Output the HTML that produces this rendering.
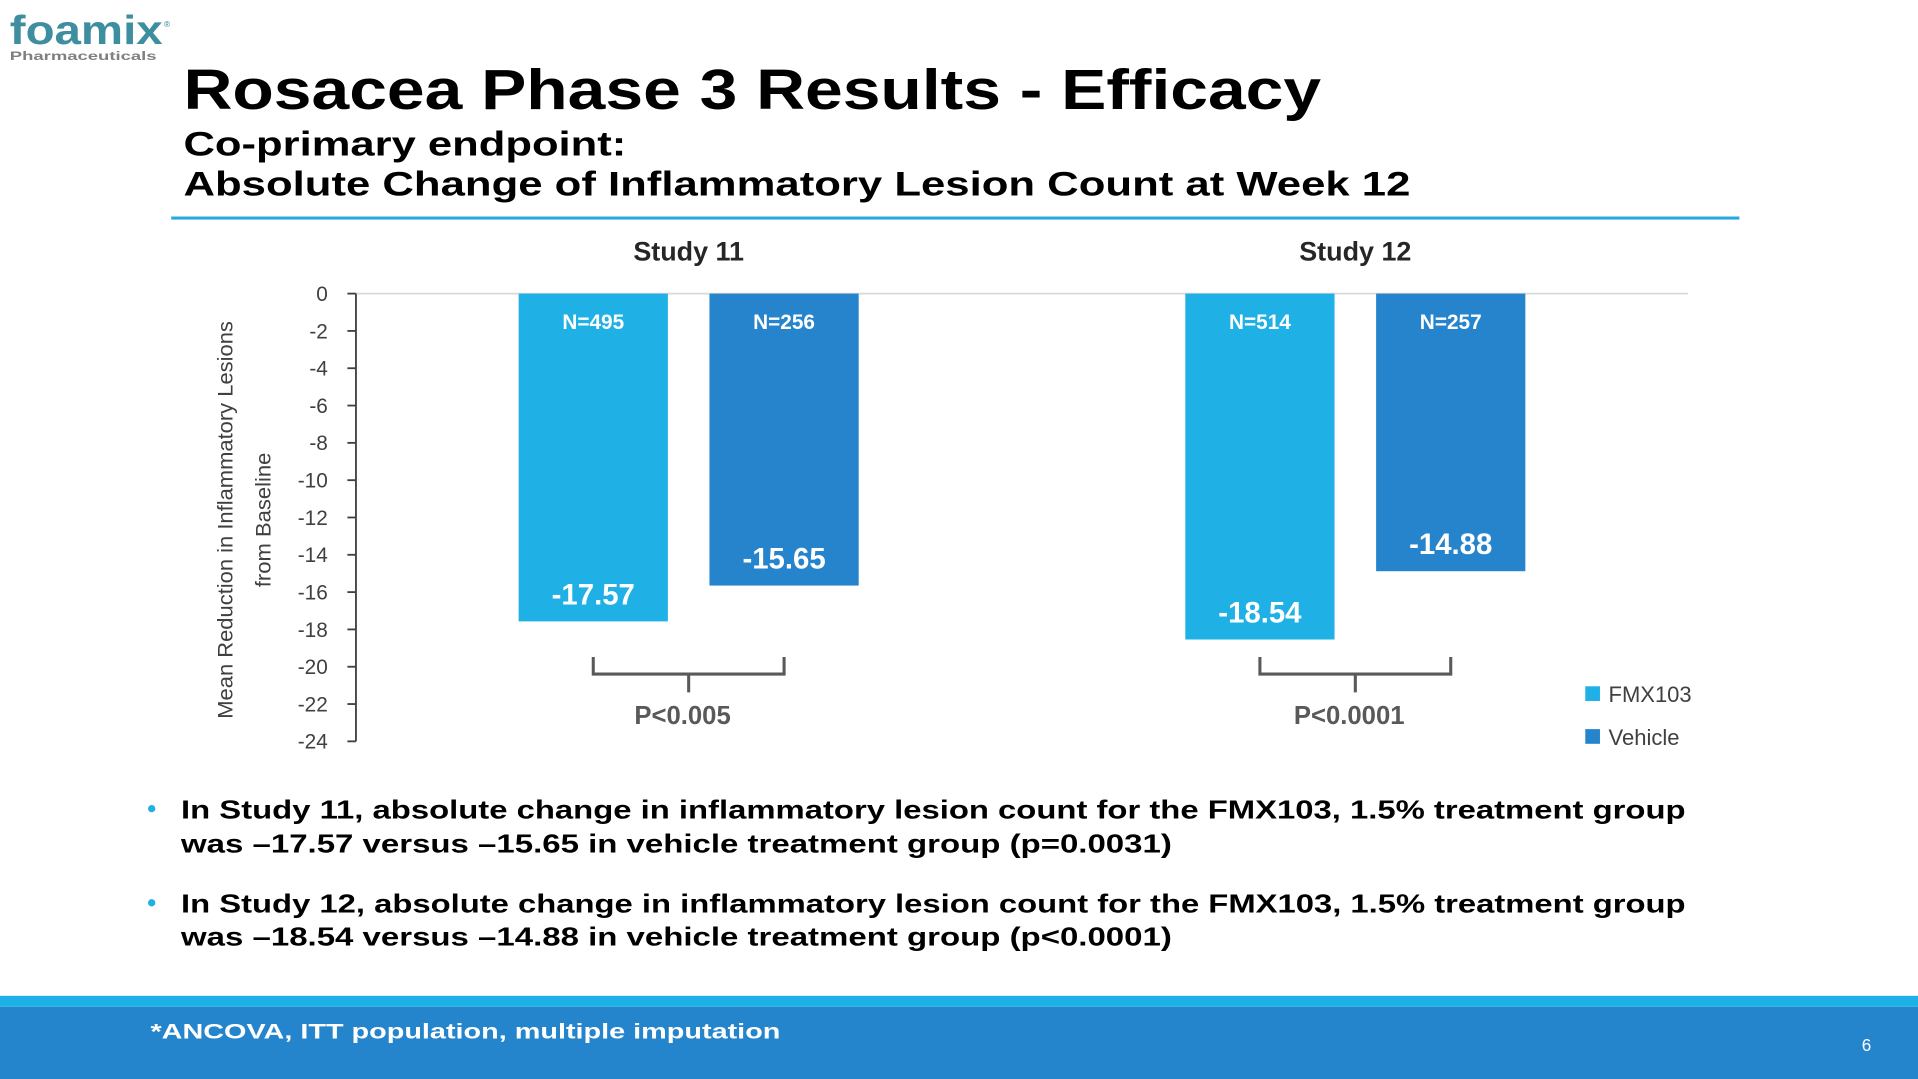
<!DOCTYPE html>
<html><head><meta charset="utf-8"><style>
html,body{margin:0;padding:0;background:#fff;}
svg{display:block;font-family:"Liberation Sans",sans-serif;}
</style></head><body>
<svg id="slide" width="1918" height="1079" viewBox="0 0 1568 882" preserveAspectRatio="none">
<text x="8" y="36" font-size="33" font-weight="bold" fill="#3d8e9f" textLength="125" lengthAdjust="spacingAndGlyphs">foamix</text>
<text x="134" y="22" font-size="7" fill="#3d8e9f">®</text>
<text x="8" y="49" font-size="10" font-weight="bold" fill="#808080" textLength="120" lengthAdjust="spacingAndGlyphs">Pharmaceuticals</text>
<text x="150" y="89" font-size="46" font-weight="bold" fill="#000" textLength="930" lengthAdjust="spacingAndGlyphs">Rosacea Phase 3 Results - Efficacy</text>
<text x="150" y="127" font-size="28" font-weight="bold" fill="#000" textLength="362" lengthAdjust="spacingAndGlyphs">Co-primary endpoint:</text>
<text x="150" y="160" font-size="28" font-weight="bold" fill="#000" textLength="1003" lengthAdjust="spacingAndGlyphs">Absolute Change of Inflammatory Lesion Count at Week 12</text>
<rect x="140" y="177" width="1282" height="2.5" fill="#29a8e0"/>
<g id="chart"></g>
<circle cx="124" cy="661" r="3" fill="#1fb1e6"/>
<text x="148" y="669" font-size="21" font-weight="bold" fill="#000" textLength="1230" lengthAdjust="spacingAndGlyphs">In Study 11, absolute change in inflammatory lesion count for the FMX103, 1.5% treatment group</text>
<text x="148" y="697" font-size="21" font-weight="bold" fill="#000" textLength="810" lengthAdjust="spacingAndGlyphs">was –17.57 versus –15.65 in vehicle treatment group (p=0.0031)</text>
<circle cx="124" cy="738" r="3" fill="#1fb1e6"/>
<text x="148" y="746" font-size="21" font-weight="bold" fill="#000" textLength="1230" lengthAdjust="spacingAndGlyphs">In Study 12, absolute change in inflammatory lesion count for the FMX103, 1.5% treatment group</text>
<text x="148" y="773" font-size="21" font-weight="bold" fill="#000" textLength="810" lengthAdjust="spacingAndGlyphs">was –18.54 versus –14.88 in vehicle treatment group (p&lt;0.0001)</text>
<rect x="0" y="814" width="1568" height="9" fill="#1fb1e6"/>
<rect x="0" y="823" width="1568" height="59" fill="#2585cc"/>
<text x="123" y="849" font-size="17" font-weight="bold" fill="#fff" textLength="515" lengthAdjust="spacingAndGlyphs">*ANCOVA, ITT population, multiple imputation</text>
<text x="1522" y="859" font-size="14" fill="#fff">6</text>
</svg>
<script>
const studies = ["Study 11", "Study 12"];
const seriesNames = ["FMX103", "Vehicle"];
const fmxValues = [-17.57, -18.54];
const vehicleValues = [-15.65, -14.88];
const fmxN = ["N=495", "N=514"];
const vehicleN = ["N=256", "N=257"];
const pLabels = ["P<0.005", "P<0.0001"];
const yTicks = [0, -2, -4, -6, -8, -10, -12, -14, -16, -18, -20, -22, -24];

const NS = "http://www.w3.org/2000/svg";
const g = document.getElementById("chart");
const y0 = 240, yBottom = 606, axisX = 291, plotRight = 1380;
function yScale(v){ return y0 + (v - 0) / (-24) * (yBottom - y0); }
const groupCenters = [563, 1108];
const barW = 122, barGap = 34;
function mk(tag, attrs, text){
  const e = document.createElementNS(NS, tag);
  for (const k in attrs) e.setAttribute(k, attrs[k]);
  if (text !== undefined) e.textContent = text;
  g.appendChild(e);
  return e;
}
let e;
e = mk("line", {x1: axisX, y1: y0, x2: plotRight, y2: y0, stroke: "#d9d9d9", "stroke-width": 1.5});


e = mk("line", {x1: axisX, y1: y0, x2: axisX, y2: yBottom, stroke: "#404040", "stroke-width": 1.5});


yTicks.forEach(t => {
  const y = yScale(t);
  e = mk("line", {x1: axisX - 7, y1: y, x2: axisX, y2: y, stroke: "#404040", "stroke-width": 1.5});
  
  
  e = mk("text", {x: 268, y: y + 6, "font-size": 17, fill: "#404040", "text-anchor": "end"}, String(t));
  
  
});
e = mk("text", {x: 0, y: 0, "font-size": 17, fill: "#404040", "text-anchor": "middle", transform: "translate(190,425) rotate(-90)", textLength: 325, lengthAdjust: "spacingAndGlyphs"}, "Mean Reduction in Inflammatory Lesions");


e = mk("text", {x: 0, y: 0, "font-size": 17, fill: "#404040", "text-anchor": "middle", transform: "translate(221,425) rotate(-90)", textLength: 110, lengthAdjust: "spacingAndGlyphs"}, "from Baseline");



const colors = ["#1fb1e6", "#2584cb"];
studies.forEach((s, i) => {
  const c = groupCenters[i];
  e = mk("text", {x: c, y: 213, "font-size": 22, "font-weight": "bold", fill: "#262626", "text-anchor": "middle"}, s);
  
  
  const vals = [fmxValues[i], vehicleValues[i]];
  const ns = [fmxN[i], vehicleN[i]];
  const xs = [c - barGap / 2 - barW, c + barGap / 2];
  vals.forEach((v, j) => {
    const yb = yScale(v);
    e = mk("rect", {x: xs[j], y: y0, width: barW, height: yb - y0, fill: colors[j]});
    
    
    e = mk("text", {x: xs[j] + barW / 2, y: 269, "font-size": 17, "font-weight": "bold", fill: "#fff", "text-anchor": "middle"}, ns[j]);
    
    
    e = mk("text", {x: xs[j] + barW / 2, y: yb - 14, "font-size": 24, "font-weight": "bold", fill: "#fff", "text-anchor": "middle"}, v.toFixed(2));
    
    
  });
  const bl = xs[0] + barW / 2, br = xs[1] + barW / 2, bm = (bl + br) / 2;
  e = mk("path", {d: `M${bl},537 L${bl},551 L${br},551 L${br},537 M${bm},551 L${bm},566`, fill: "none", stroke: "#595959", "stroke-width": 2.5});
  
  
  e = mk("text", {x: bm - 5, y: 592, "font-size": 21, "font-weight": "bold", fill: "#595959", "text-anchor": "middle"}, pLabels[i]);
  
  
});
seriesNames.forEach((n, j) => {
  const y = 567 + j * 35;
  e = mk("rect", {x: 1296, y: y - 6, width: 12, height: 12, fill: colors[j]});
  
  
  e = mk("text", {x: 1315, y: y + 7, "font-size": 18, fill: "#404040"}, n);
  
  
});
</script>
</body></html>
